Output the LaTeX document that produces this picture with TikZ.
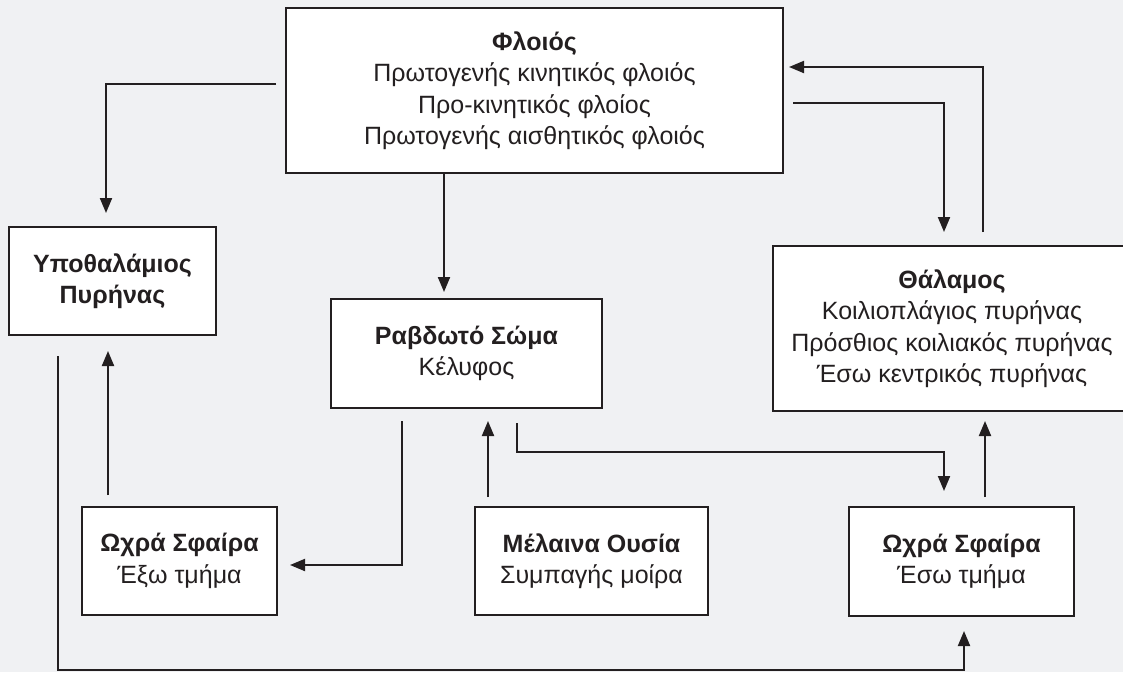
\documentclass[tikz,border=0pt]{standalone}
\usepackage{fontspec}
\setmainfont{Liberation Sans}
\usetikzlibrary{arrows.meta}
\definecolor{bg}{HTML}{F0F1F3}
\definecolor{ink}{HTML}{231F20}
\tikzset{
  box/.style={draw=ink, line width=2pt, fill=white, inner sep=0pt, align=center,
    text=ink, font=\fontsize{25}{31.5}\selectfont},
  conn/.style={draw=ink, line width=2pt, -{Triangle[length=15pt,width=12pt]}},
}
\begin{document}
\begin{tikzpicture}[x=1pt,y=-1pt]
\fill[bg] (0,0) rectangle (1123,672);
\useasboundingbox (0,0) rectangle (1123,672);

\node[box, minimum width=497pt, minimum height=165pt] (fl) at (534.5,90.5)
  {\textbf{Φλοιός}\\Πρωτογενής κινητικός φλοιός\\Προ-κινητικός φλοίος\\Πρωτογενής αισθητικός φλοιός};
\node[box, minimum width=207pt, minimum height=108pt] (hyp) at (112.5,281)
  {\textbf{Υποθαλάμιος}\\\textbf{Πυρήνας}};
\node[box, minimum width=195pt, minimum height=108pt] (gpe) at (179.5,561)
  {\textbf{Ωχρά Σφαίρα}\\Έξω τμήμα};
\node[box, minimum width=271pt, minimum height=109pt] (str) at (466.5,353.5)
  {\textbf{Ραβδωτό Σώμα}\\Κέλυφος};
\node[box, minimum width=233pt, minimum height=108pt] (sn) at (591.5,561)
  {\textbf{Μέλαινα Ουσία}\\Συμπαγής μοίρα};
\node[box, minimum width=358pt, minimum height=165pt] (th) at (952,328.5)
  {\textbf{Θάλαμος}\\Κοιλιοπλάγιος πυρήνας\\Πρόσθιος κοιλιακός πυρήνας\\Έσω κεντρικός πυρήνας};
\node[box, minimum width=225pt, minimum height=109pt] (gpi) at (961.5,561.5)
  {\textbf{Ωχρά Σφαίρα}\\Έσω τμήμα};

\draw[conn, shorten <=9pt, shorten >=13pt] (fl.west |- 0,84) -| (hyp.north -| 106,0);
\draw[conn, shorten >=6pt] (fl.south -| 444,0) -- (str.north -| 444,0);
\draw[conn, shorten <=13pt, shorten >=5pt] (th.north -| 983,0) |- (fl.east |- 0,67);
\draw[conn, shorten <=9pt, shorten >=13pt] (fl.east |- 0,103) -| (th.north -| 944,0);
\draw[conn, shorten <=20pt, shorten >=14pt] (hyp.south -| 58,0) |- (964,670) -- (gpi.south -| 964,0);
\draw[conn, shorten <=11pt, shorten >=15pt] (gpe.north -| 108,0) -- (hyp.south -| 108,0);
\draw[conn, shorten <=12pt, shorten >=12pt] (str.south -| 402,0) |- (gpe.east |- 0,565);
\draw[conn, shorten <=9pt, shorten >=12pt] (sn.north -| 488,0) -- (str.south -| 488,0);
\draw[conn, shorten <=14pt, shorten >=15pt] (str.south -| 517,0) |- (944,452) -- (gpi.north -| 944,0);
\draw[conn, shorten <=9pt, shorten >=9pt] (gpi.north -| 985,0) -- (th.south -| 985,0);
\end{tikzpicture}
\end{document}
